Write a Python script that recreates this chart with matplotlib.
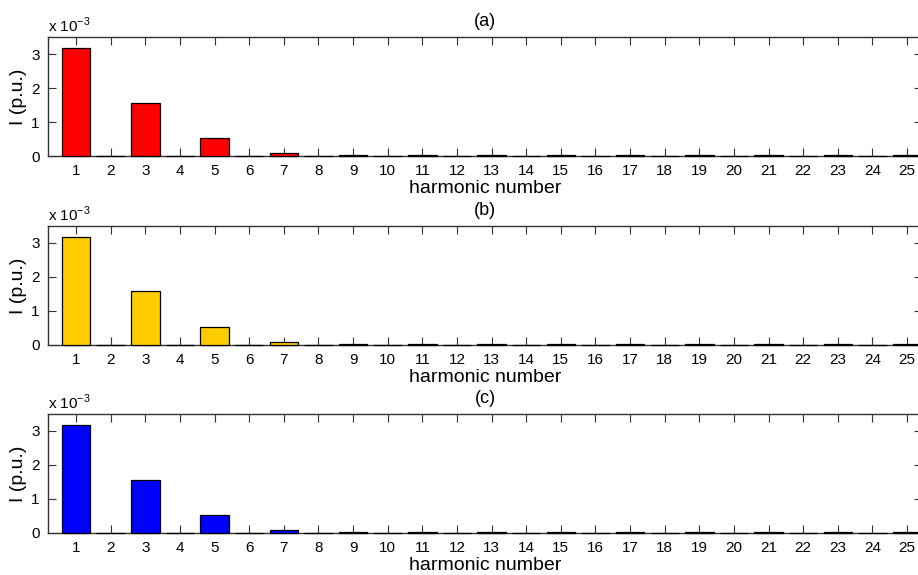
import matplotlib
matplotlib.use("Agg")
import matplotlib.pyplot as plt
import numpy as np

plt.rcParams["font.family"] = ["Liberation Sans", "DejaVu Sans"]

harmonics = list(range(1, 26))
# current magnitudes in units of 1e-3 p.u.
currentA = [3.17, 0, 1.57, 0, 0.54, 0, 0.08, 0, 0.03, 0, 0.025, 0, 0.02, 0, 0.02,
            0, 0.02, 0, 0.02, 0, 0.02, 0, 0.02, 0, 0.02]
currentB = [3.17, 0, 1.58, 0, 0.54, 0, 0.09, 0, 0.03, 0, 0.025, 0, 0.02, 0, 0.02,
            0, 0.02, 0, 0.02, 0, 0.02, 0, 0.02, 0, 0.02]
currentC = [3.17, 0, 1.57, 0, 0.54, 0, 0.08, 0, 0.03, 0, 0.025, 0, 0.02, 0, 0.02,
            0, 0.02, 0, 0.02, 0, 0.02, 0, 0.02, 0, 0.02]
panelTitles = ["(a)", "(b)", "(c)"]
barColors = ["#ff0000", "#ffcc00", "#0000ff"]
series = [currentA, currentB, currentC]

fig = plt.figure(figsize=(9.18, 5.75), dpi=100)
W, H = 918, 575
left, right = 48 / W, 922 / W
tops = [37, 226, 414]
axH = 119

for i, (vals, col, ttl) in enumerate(zip(series, barColors, panelTitles)):
    top = tops[i]
    ax = fig.add_axes([left, 1 - (top + axH) / H, right - left, axH / H])
    ax.bar(harmonics, np.array(vals) * 1e-3, width=0.82, color=col,
           edgecolor="black", linewidth=0.9, zorder=3, clip_on=False)
    ax.set_xlim(0.19, 25.43)
    ax.set_ylim(0, 3.5e-3)
    ax.set_xticks(harmonics)
    ax.set_xticklabels([str(h) for h in harmonics])
    ax.set_yticks([0, 1e-3, 2e-3, 3e-3])
    ax.set_yticklabels(["0", "1", "2", "3"])
    ax.tick_params(direction="in", top=True, right=True, length=6, width=0.8,
                   labelsize=11, pad=6, colors="#333333", labelcolor="black")
    for s in ax.spines.values():
        s.set_linewidth(1.0)
        s.set_color("#333333")
    ax.set_xlabel("harmonic number", fontsize=14, labelpad=1)
    ax.set_ylabel("I (p.u.)", fontsize=14, labelpad=3)
    ax.set_title(ttl, fontsize=13, pad=8)
    ax.text(0.0, 1.02, r"x 10$^{\mathregular{-3}}$", transform=ax.transAxes,
            fontsize=11, ha="left", va="bottom")

fig.savefig("out.png", dpi=100)
